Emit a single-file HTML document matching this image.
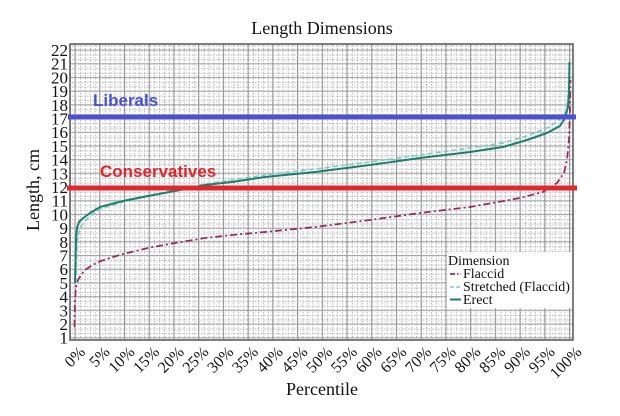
<!DOCTYPE html>
<html><head><meta charset="utf-8">
<style>
html,body{margin:0;padding:0;background:#fff;}
svg{display:block;}
</style></head>
<body>
<svg width="620" height="416" viewBox="0 0 620 416" xmlns="http://www.w3.org/2000/svg">
<defs>
<pattern id="minV" x="75" y="0" width="4.945" height="3" patternUnits="userSpaceOnUse">
<rect x="0" y="0" width="1" height="1.5" fill="#b8b8b8"/>
</pattern>
<pattern id="minH" x="0" y="50" width="3" height="4.567" patternUnits="userSpaceOnUse">
<rect x="0" y="0" width="1.5" height="1" fill="#b8b8b8"/>
</pattern>
</defs>
<rect width="620" height="416" fill="#fff"/>
<text x="322" y="34" font-family="'Liberation Serif', serif" font-size="18" text-anchor="middle" fill="#111">Length Dimensions</text>

<!-- plot area -->
<rect x="70" y="44" width="503" height="296" fill="#fff"/>
<rect x="70" y="44" width="503" height="296" fill="url(#minV)"/>
<rect x="70" y="44" width="503" height="296" fill="url(#minH)"/>
<path d="M70 50H573M70 63.7H573M70 77.4H573M70 91.1H573M70 104.8H573M70 118.5H573M70 132.2H573M70 145.9H573M70 159.6H573M70 173.3H573M70 187H573M70 200.7H573M70 214.4H573M70 228.1H573M70 241.8H573M70 255.5H573M70 269.2H573M70 282.9H573M70 296.6H573M70 310.3H573M70 324H573M70 337.7H573" stroke="#a6a6a6" stroke-width="1" fill="none"/>
<path d="M75 44V340M99.7 44V340M124.5 44V340M149.2 44V340M173.9 44V340M198.6 44V340M223.4 44V340M248.1 44V340M272.8 44V340M297.5 44V340M322.3 44V340M347 44V340M371.7 44V340M396.4 44V340M421.2 44V340M445.9 44V340M470.6 44V340M495.3 44V340M520.1 44V340M544.8 44V340M569.5 44V340" stroke="#959595" stroke-width="1" fill="none"/>

<!-- legend background -->
<rect x="447" y="252" width="126" height="56" fill="#fff"/>

<!-- series -->
<polyline fill="none" stroke="#9b2a5c" stroke-width="1.8" stroke-dasharray="7,3,2,3" stroke-linejoin="round"
points="74.5,327 75,300 76,287 78,280 81,275 85,270 91,266 98,262 110,258 123,254 148,248 175,243 205,238 232,235 265,232 315,227 370,220 420,213 470,207 520,198 543,192 557,183 564,173 567,160 569,140 570,110 570.5,80"/>
<polyline fill="none" stroke="#7ccfbf" stroke-width="1.6" stroke-dasharray="5,3" stroke-linejoin="round"
points="76,283 77,245 79,232 83,223 90,216 100,209 123,202 148,196 175,190 205,184 232,180 265,175 315,169 370,162 420,155 470,148 503,143 527,136 547,128 558,121 565,113 568,100 569,83"/>
<polyline fill="none" stroke="#1e7d6c" stroke-width="2" stroke-linejoin="round"
points="75,283 75.5,260 76,240 77,228 79,222 82,219 86,216 90,213 100,207 123,201 148,196 175,191 205,185 232,182 265,177 315,172 370,165 420,158 470,152 503,147 527,140 547,133 560,126 565,118 568,107 569,90 569.5,62"/>

<!-- frame -->
<rect x="70" y="44" width="503" height="296" fill="none" stroke="#555" stroke-width="1.5"/>

<!-- y labels -->
<g font-family="'Liberation Serif', serif" font-size="17" text-anchor="end" fill="#111">
<text x="68" y="56">22</text><text x="68" y="69.7">21</text><text x="68" y="83.4">20</text><text x="68" y="97.1">19</text><text x="68" y="110.8">18</text><text x="68" y="124.5">17</text><text x="68" y="138.2">16</text><text x="68" y="151.9">15</text><text x="68" y="165.6">14</text><text x="68" y="179.3">13</text><text x="68" y="193">12</text><text x="68" y="206.7">11</text><text x="68" y="220.4">10</text><text x="68" y="234.1">9</text><text x="68" y="247.8">8</text><text x="68" y="261.5">7</text><text x="68" y="275.2">6</text><text x="68" y="288.9">5</text><text x="68" y="302.6">4</text><text x="68" y="316.3">3</text><text x="68" y="330">2</text><text x="68" y="343.7">1</text>
</g>
<text transform="translate(39,190) rotate(-90)" font-family="'Liberation Serif', serif" font-size="18" text-anchor="middle" fill="#111">Length, cm</text>

<!-- x labels -->
<g font-family="'Liberation Serif', serif" font-size="16" text-anchor="end" fill="#111">
<text transform="translate(86,353) rotate(-45)">0%</text>
<text transform="translate(110.7,353) rotate(-45)">5%</text>
<text transform="translate(135.5,353) rotate(-45)">10%</text>
<text transform="translate(160.2,353) rotate(-45)">15%</text>
<text transform="translate(184.9,353) rotate(-45)">20%</text>
<text transform="translate(209.6,353) rotate(-45)">25%</text>
<text transform="translate(234.4,353) rotate(-45)">30%</text>
<text transform="translate(259.1,353) rotate(-45)">35%</text>
<text transform="translate(283.8,353) rotate(-45)">40%</text>
<text transform="translate(308.5,353) rotate(-45)">45%</text>
<text transform="translate(333.3,353) rotate(-45)">50%</text>
<text transform="translate(358,353) rotate(-45)">55%</text>
<text transform="translate(382.7,353) rotate(-45)">60%</text>
<text transform="translate(407.4,353) rotate(-45)">65%</text>
<text transform="translate(432.2,353) rotate(-45)">70%</text>
<text transform="translate(456.9,353) rotate(-45)">75%</text>
<text transform="translate(481.6,353) rotate(-45)">80%</text>
<text transform="translate(506.3,353) rotate(-45)">85%</text>
<text transform="translate(531.1,353) rotate(-45)">90%</text>
<text transform="translate(555.8,353) rotate(-45)">95%</text>
<text transform="translate(582.5,353) rotate(-45)">100%</text>
</g>
<text x="322" y="395" font-family="'Liberation Serif', serif" font-size="18" text-anchor="middle" fill="#111">Percentile</text>

<!-- legend -->
<g font-family="'Liberation Serif', serif" font-size="14" fill="#111">
<text x="448" y="265">Dimension</text>
<text x="463" y="278">Flaccid</text>
<text x="463" y="291">Stretched (Flaccid)</text>
<text x="463" y="304">Erect</text>
</g>
<line x1="450" y1="274" x2="461" y2="274" stroke="#9b2a5c" stroke-width="1.8" stroke-dasharray="5,2,1.5,2"/>
<line x1="450" y1="287" x2="461" y2="287" stroke="#7ccfbf" stroke-width="1.6" stroke-dasharray="4,2"/>
<line x1="450" y1="299.5" x2="461" y2="299.5" stroke="#1e7d6c" stroke-width="2"/>

<!-- annotation lines -->
<line x1="68" y1="117" x2="576" y2="117" stroke="#4a52d0" stroke-width="5"/>
<line x1="67" y1="188" x2="577" y2="188" stroke="#e3252d" stroke-width="5"/>
<text x="93" y="106" font-family="'Liberation Sans', sans-serif" font-weight="bold" font-size="17" fill="#4a52d0">Liberals</text>
<text x="100" y="177" font-family="'Liberation Sans', sans-serif" font-weight="bold" font-size="17" fill="#e3252d">Conservatives</text>
</svg>
</body></html>
